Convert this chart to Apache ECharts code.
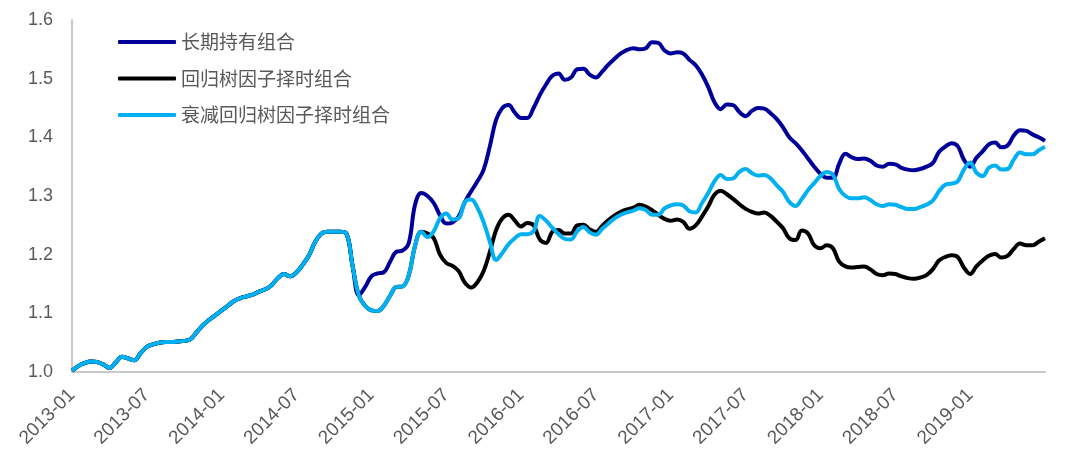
<!DOCTYPE html>
<html><head><meta charset="utf-8">
<script src="https://cdn.jsdelivr.net/npm/echarts@6/dist/echarts.min.js"></script>
<style>html,body{margin:0;padding:0;background:#fff}#c{width:1068px;height:465px}</style>
</head><body><div id="c"></div>
<script>
// half-monthly points from 2013-01 to 2019-07
const seriesNames = ['长期持有组合', '回归树因子择时组合', '衰减回归树因子择时组合'];
const yTicks = ['1.0','1.1','1.2','1.3','1.4','1.5','1.6'];

const longHold = [
1.002,1.010,1.015,1.018,1.017,1.013,1.007,1.016,1.026,1.023,1.020,1.032,1.043,1.047,1.050,1.051,1.051,1.052,1.053,1.056,
1.068,1.080,1.089,1.097,1.105,1.113,1.121,1.126,1.129,1.132,1.137,1.141,1.148,1.160,1.167,1.163,1.170,1.183,1.199,1.222,
1.236,1.239,1.239,1.239,1.236,1.180,
1.131,1.145,1.163,1.168,1.170,1.188,1.205,1.207,1.220,1.285,1.305,
1.300,1.288,1.267,1.253,1.255,1.265,1.290,1.308,1.325,1.345,1.385,1.430,1.450,1.455,1.442,1.433,1.433,1.450,1.472,1.490,
1.505,1.509,1.498,1.502,1.516,1.517,1.507,1.502,1.512,1.524,1.534,1.543,1.549,1.552,1.550,1.552,1.562,1.561,1.548,1.543,
1.545,1.543,1.532,1.523,1.507,1.486,1.460,1.448,1.456,1.455,1.443,1.436,1.445,1.450,1.449,1.441,1.431,1.417,1.400,1.390,
1.378,1.364,1.350,1.338,1.331,1.331,1.355,1.372,1.366,1.363,1.364,1.360,1.352,1.350,1.355,1.354,1.348,1.345,1.344,1.346,
1.350,1.356,1.375,1.384,1.390,1.385,1.362,1.350,1.365,1.376,1.388,1.391,1.383,1.386,1.403,1.412,1.411,1.405,1.400,1.394
];

const treeTiming = [
1.002,1.010,1.015,1.018,1.017,1.013,1.007,1.016,1.026,1.023,1.020,1.032,1.043,1.047,1.050,1.051,1.051,1.052,1.053,1.056,
1.068,1.080,1.089,1.097,1.105,1.113,1.121,1.126,1.129,1.132,1.137,1.141,1.148,1.160,1.167,1.163,1.170,1.183,1.199,1.222,
1.236,1.239,1.239,1.239,1.236,1.180,
1.130,1.113,1.105,1.104,1.113,1.130,1.145,1.146,1.165,1.215,1.239,
1.236,1.228,1.200,1.186,1.181,1.172,1.152,1.144,1.153,1.172,1.205,1.242,1.262,1.268,1.258,1.248,1.254,1.250,1.226,1.220,
1.239,1.242,1.236,1.236,1.250,1.251,1.243,1.239,1.249,1.259,1.267,1.273,1.277,1.280,1.285,1.282,1.276,1.268,1.261,1.258,
1.260,1.256,1.244,1.250,1.265,1.282,1.302,1.309,1.303,1.295,1.286,1.278,1.273,1.270,1.272,1.266,1.256,1.245,1.228,1.225,
1.241,1.236,1.216,1.211,1.216,1.211,1.188,1.180,1.178,1.179,1.180,1.175,1.167,1.165,1.168,1.167,1.163,1.160,1.159,1.161,
1.165,1.175,1.190,1.196,1.199,1.196,1.178,1.167,1.180,1.190,1.198,1.201,1.195,1.198,1.210,1.219,1.216,1.216,1.222,1.228
];

const decayTreeTiming = [
1.002,1.010,1.015,1.018,1.017,1.013,1.007,1.016,1.026,1.023,1.020,1.032,1.043,1.047,1.050,1.051,1.051,1.052,1.053,1.056,
1.068,1.080,1.089,1.097,1.105,1.113,1.121,1.126,1.129,1.132,1.137,1.141,1.148,1.160,1.167,1.163,1.170,1.183,1.199,1.222,
1.236,1.239,1.239,1.239,1.236,1.180,
1.130,1.113,1.105,1.104,1.113,1.130,1.145,1.146,1.165,1.215,1.239,
1.230,1.240,1.262,1.270,1.260,1.262,1.290,1.294,1.280,1.255,1.222,1.191,1.203,1.218,1.228,1.235,1.235,1.240,1.266,1.258,
1.246,1.235,1.227,1.226,1.240,1.247,1.238,1.234,1.244,1.253,1.262,1.268,1.272,1.275,1.279,1.276,1.268,1.268,1.279,1.284,
1.286,1.284,1.274,1.272,1.288,1.305,1.325,1.336,1.329,1.330,1.341,1.346,1.339,1.335,1.336,1.330,1.318,1.307,1.290,1.283,
1.295,1.310,1.322,1.334,1.341,1.336,1.312,1.300,1.296,1.296,1.298,1.293,1.286,1.283,1.286,1.285,1.281,1.278,1.278,1.281,
1.285,1.292,1.308,1.319,1.321,1.325,1.345,1.357,1.340,1.334,1.348,1.352,1.345,1.346,1.362,1.374,1.371,1.371,1.378,1.384
];

const categories = [];
for (let i = 0; i < longHold.length; i++) {
  const m = Math.floor(i / 2);
  const y = 2013 + Math.floor(m / 12);
  const mm = String(m % 12 + 1).padStart(2, '0');
  categories.push(y + '-' + mm + (i % 2 ? '-16' : '-01'));
}

const chart = echarts.init(document.getElementById('c'));
const txt = '#595959';
chart.setOption({
  animation: false,
  backgroundColor: '#fff',
  grid: { left: 72, right: 23, top: 20, bottom: 93 },
  legend: {
    orient: 'vertical', left: 118, top: 32, padding: 0,
    itemWidth: 58, itemHeight: 4, itemGap: 16.5, icon: 'roundRect',
    textStyle: { color: txt, fontSize: 19, lineHeight: 20, fontFamily: 'Noto Sans CJK SC' },
    data: seriesNames
  },
  xAxis: {
    type: 'category', data: categories, boundaryGap: false,
    axisLine: { lineStyle: { color: '#c8c8c8', width: 2 } },
    axisTick: { show: false },
    axisLabel: {
      interval: (idx) => idx % 12 === 0 && idx < categories.length - 1,
      rotate: 45, color: txt, fontSize: 19, margin: 20,
      fontFamily: 'Liberation Sans',
      formatter: v => v.slice(0, 7)
    },
    splitLine: { show: false }
  },
  yAxis: {
    type: 'value', min: 1.0, max: 1.6, interval: 0.1,
    axisLine: { show: true, lineStyle: { color: '#c8c8c8', width: 2 } },
    axisTick: { show: false },
    splitLine: { show: false },
    axisLabel: {
      color: txt, fontSize: 18, margin: 19, fontFamily: 'Liberation Sans',
      formatter: v => yTicks[Math.round((v - 1.0) * 10)]
    }
  },
  series: [
    { name: seriesNames[0], type: 'line', data: longHold, smooth: 0.4, showSymbol: false,
      lineStyle: { color: '#000099', width: 4 }, itemStyle: { color: '#000099' } },
    { name: seriesNames[1], type: 'line', data: treeTiming, smooth: 0.4, showSymbol: false,
      lineStyle: { color: '#000000', width: 4 }, itemStyle: { color: '#000000' } },
    { name: seriesNames[2], type: 'line', data: decayTreeTiming, smooth: 0.4, showSymbol: false,
      lineStyle: { color: '#00B0F0', width: 4 }, itemStyle: { color: '#00B0F0' } }
  ]
});
</script></body></html>
